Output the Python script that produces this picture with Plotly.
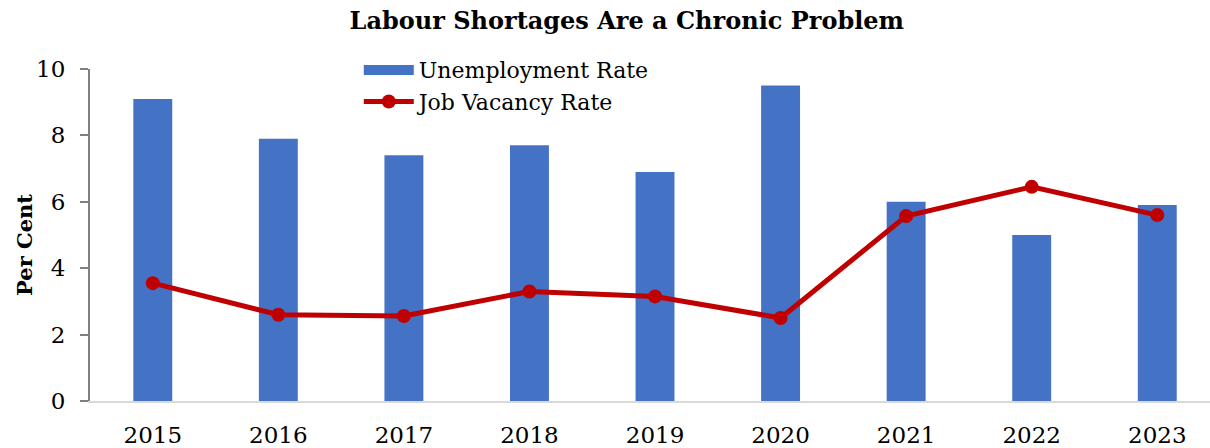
import plotly.graph_objects as go

years = ["2015", "2016", "2017", "2018", "2019", "2020", "2021", "2022", "2023"]
unemployment = [9.1, 7.9, 7.4, 7.7, 6.9, 9.5, 6.0, 5.0, 5.9]
vacancy = [3.55, 2.6, 2.56, 3.3, 3.15, 2.5, 5.57, 6.45, 5.6]

FONT = "DejaVu Serif"
BLUE = "#4472C4"
RED = "#C00000"

fig = go.Figure()
# legend proxy for the bar series (wide rectangle symbol)
fig.add_trace(go.Scatter(
    x=[None], y=[None], name="Unemployment Rate", mode="lines",
    line=dict(color=BLUE, width=15),
))
fig.add_trace(go.Bar(
    x=years, y=unemployment, name="Unemployment Rate", showlegend=False,
    marker=dict(color=BLUE, line=dict(width=0)), width=0.31,
))
fig.add_trace(go.Scatter(
    x=years, y=vacancy, name="Job Vacancy Rate", mode="lines+markers",
    line=dict(color=RED, width=5),
    marker=dict(color=RED, size=14),
))

fig.update_layout(
    width=1210, height=448,
    margin=dict(l=90, r=0, t=69, b=47),
    paper_bgcolor="white", plot_bgcolor="white",
    font=dict(family=FONT, size=22, color="black"),
    title=dict(text="<b>Labour Shortages Are a Chronic Problem</b>",
               x=0.518, xanchor="center", y=0.955, yanchor="middle",
               font=dict(family=FONT, size=24, color="black")),
    showlegend=True,
    legend=dict(x=0.24, y=1.06, xanchor="left", yanchor="top",
                bgcolor="rgba(0,0,0,0)", font=dict(family=FONT, size=22),
                itemwidth=50, tracegroupgap=0),
    bargap=0.6,
    annotations=[dict(
        text="<b>Per Cent</b>", x=0, y=0.47, xref="paper", yref="paper",
        xanchor="center", yanchor="middle", xshift=-65, textangle=-90,
        showarrow=False, font=dict(family=FONT, size=21, color="black"),
    )],
)
fig.update_xaxes(
    type="category", range=[-0.5, 8.42],
    showline=True, linecolor="#D9D9D9", linewidth=2,
    ticks="", showgrid=False, tickfont=dict(family=FONT, size=23),
    ticklabelstandoff=12,
)
fig.update_yaxes(
    range=[0, 10], dtick=2, showline=True, linecolor="#808080", linewidth=2,
    ticks="outside", ticklen=8, tickcolor="#808080", tickwidth=2,
    showgrid=False, zeroline=False,
    tickfont=dict(family=FONT, size=23), ticklabelstandoff=10,
)

fig.write_html("out.html")
